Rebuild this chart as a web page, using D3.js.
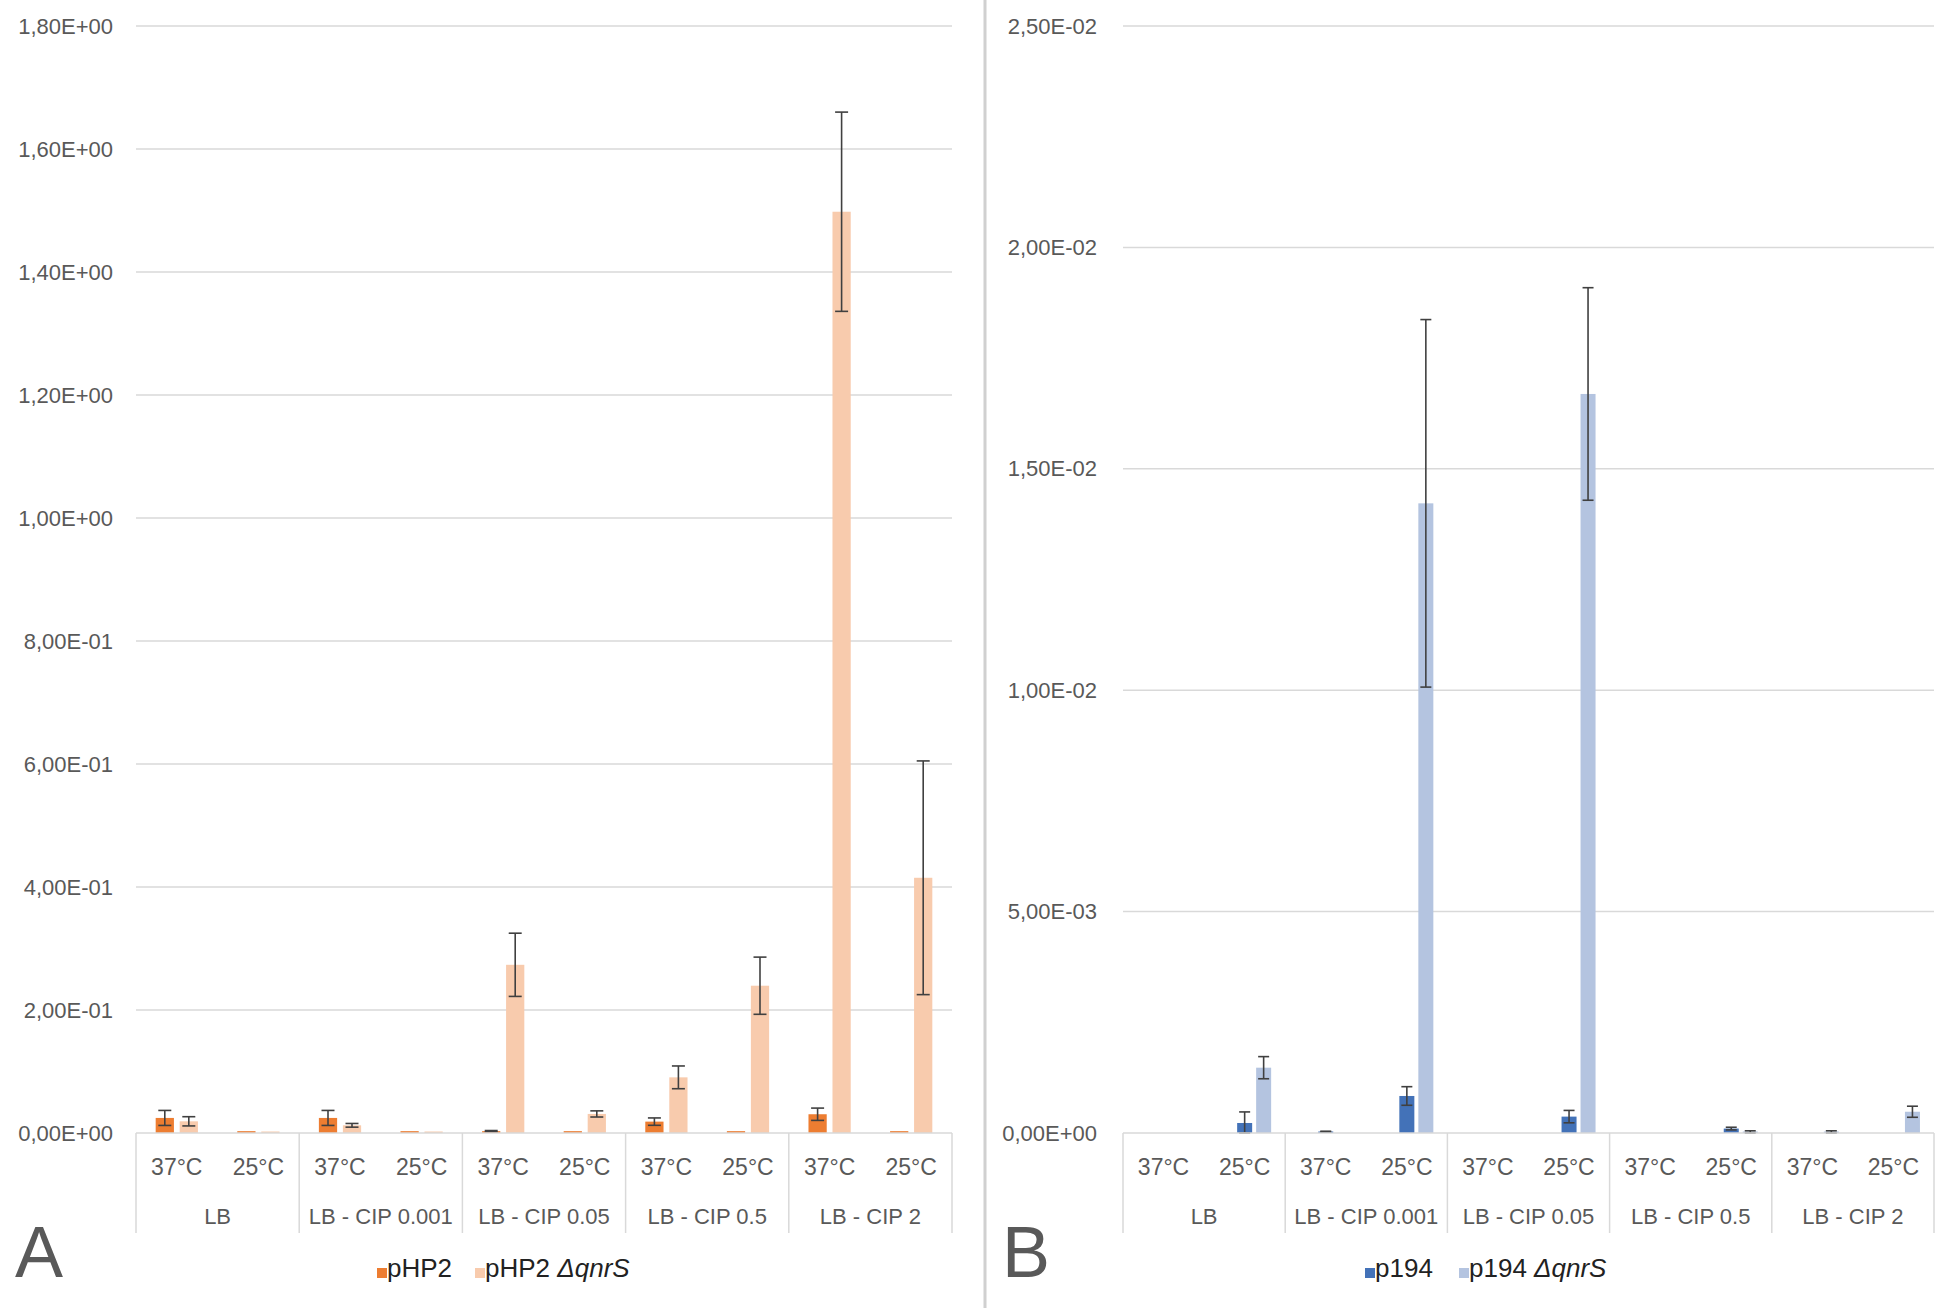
<!DOCTYPE html>
<html>
<head>
<meta charset="utf-8">
<script src="https://cdn.jsdelivr.net/npm/d3@7"></script>
<style>
  body { margin: 0; background: #fff; }
  text { font-family: "Liberation Sans", Arial, sans-serif; }
</style>
</head>
<body>
<script>
// categories
var groups = ["LB", "LB - CIP 0.001", "LB - CIP 0.05", "LB - CIP 0.5", "LB - CIP 2"];
var temps = ["37°C", "25°C"];

// panel A series (one value per group x temperature)
var pHP2 = [0.0245, 0.003, 0.0245, 0.003, 0.003, 0.003, 0.0185, 0.003, 0.0305, 0.003];
var pHP2Err = [0.0122, 0, 0.0122, 0, 0.001, 0, 0.006, 0, 0.010, 0];
var pHP2dq = [0.019, 0.002, 0.0125, 0.002, 0.2735, 0.031, 0.0905, 0.2395, 1.498, 0.415];
var pHP2dqErr = [0.0075, 0, 0.003, 0, 0.0514, 0.005, 0.0185, 0.0465, 0.162, 0.19];

// panel B series
var p194 = [0, 0.000226, 0.00003, 0.000836, 0, 0.00037, 0, 0.0001, 0, 0];
var p194Err = [0, 0.00025, 0.00001, 0.00021, 0, 0.00014, 0, 0.00003, 0, 0];
var p194dq = [0, 0.001475, 0, 0.01422, 0, 0.01669, 0, 0.00002, 0.00001, 0.00048];
var p194dqErr = [0, 0.00025, 0, 0.00415, 0, 0.0024, 0, 0.00003, 0.00004, 0.000125];

var width = 1944;
var height = 1308;
var plotTop = 26;
var plotBase = 1133;
var grey = "#595959";
var lineGrey = "#d9d9d9";

var svg = d3.select("body").append("svg")
  .attr("width", width)
  .attr("height", height);

svg.append("rect").attr("width", width).attr("height", height).attr("fill", "#fff");

// excel-like "1,80E+00"
var sciFormat = function (v) {
  if (Math.abs(v) < 1e-12) return "0,00E+00";
  var e = Math.floor(Math.log10(v) + 1e-9);
  var m = v / Math.pow(10, e);
  return m.toFixed(2).replace(".", ",") + "E" + (e < 0 ? "-" : "+") +
    String(Math.abs(e)).padStart(2, "0");
};

var keys = [];
groups.forEach(function (g) {
  temps.forEach(function (t) { keys.push(g + "|" + t); });
});

var panels = [
  {
    left: 136, right: 952, yMax: 1.8, yStep: 0.2, tickPad: 23,
    slots: ["pHP2", "pHP2 ΔqnrS"], padIn: 0.24, padOut: 0.82, capW: 13,
    series: [
      { name: "pHP2", values: pHP2, errs: pHP2Err, color: "#ED7D31" },
      { name: "pHP2 ΔqnrS", values: pHP2dq, errs: pHP2dqErr, color: "#F8CBAD" }
    ],
    letter: "A", letterX: 15, legendX: [377, 475]
  },
  {
    left: 1123, right: 1934, yMax: 0.025, yStep: 0.005, tickPad: 26,
    // first slot is an empty series, so p194 sits at the category centre
    slots: ["", "p194", "p194 ΔqnrS"], padIn: 0.21, padOut: 0.74, capW: 11,
    series: [
      { name: "p194", values: p194, errs: p194Err, color: "#4372B8" },
      { name: "p194 ΔqnrS", values: p194dq, errs: p194dqErr, color: "#B4C4E0" }
    ],
    letter: "B", letterX: 1002, legendX: [1365, 1459]
  }
];

// divider between the two charts
svg.append("line")
  .attr("x1", 985).attr("x2", 985)
  .attr("y1", 0).attr("y2", height)
  .attr("stroke", "#d0d0d0")
  .attr("stroke-width", 3);

panels.forEach(function (p) {
  var g = svg.append("g");

  var y = d3.scaleLinear().domain([0, p.yMax]).range([plotBase, plotTop]);
  var x0 = d3.scaleBand().domain(keys).range([p.left, p.right]);
  var x1 = d3.scaleBand().domain(p.slots).range([0, x0.bandwidth()])
    .paddingInner(p.padIn).paddingOuter(p.padOut);

  var n = Math.round(p.yMax / p.yStep);
  var ticks = d3.range(0, n + 1).map(function (i) { return i * p.yStep; });

  // gridlines
  g.append("g").selectAll("line")
    .data(ticks.slice(1))
    .enter().append("line")
    .attr("x1", p.left).attr("x2", p.right)
    .attr("y1", function (d) { return y(d); })
    .attr("y2", function (d) { return y(d); })
    .attr("stroke", lineGrey)
    .attr("stroke-width", 1.5);

  // y axis labels
  var yAxis = d3.axisLeft(y)
    .tickValues(ticks)
    .tickFormat(sciFormat)
    .tickSize(0)
    .tickPadding(p.tickPad);
  var ya = g.append("g")
    .attr("transform", "translate(" + p.left + ",0)")
    .call(yAxis);
  ya.select(".domain").remove();
  ya.selectAll("text")
    .style("font-family", "'Liberation Sans', Arial, sans-serif")
    .style("font-size", "22px")
    .attr("fill", grey);

  // bars
  p.series.forEach(function (s) {
    var rows = keys.map(function (k, i) {
      return { key: k, v: s.values[i], e: s.errs[i] };
    });
    g.append("g").selectAll("rect")
      .data(rows.filter(function (d) { return d.v > 0; }))
      .enter().append("rect")
      .attr("x", function (d) { return x0(d.key) + x1(s.name); })
      .attr("y", function (d) { return Math.min(y(d.v), plotBase - 1.5); })
      .attr("width", x1.bandwidth())
      .attr("height", function (d) { return Math.max(1.5, y(0) - y(d.v)); })
      .attr("fill", s.color);

    // error bars
    var eb = g.append("g").selectAll("g")
      .data(rows.filter(function (d) { return d.e > 0; }))
      .enter().append("g")
      .attr("stroke", "#404040")
      .attr("stroke-width", 1.6);
    var cx = function (d) { return x0(d.key) + x1(s.name) + x1.bandwidth() / 2; };
    eb.append("line")
      .attr("x1", cx).attr("x2", cx)
      .attr("y1", function (d) { return y(d.v + d.e); })
      .attr("y2", function (d) { return y(Math.max(0, d.v - d.e)); });
    eb.append("line")
      .attr("x1", function (d) { return cx(d) - p.capW / 2; })
      .attr("x2", function (d) { return cx(d) + p.capW / 2; })
      .attr("y1", function (d) { return y(d.v + d.e); })
      .attr("y2", function (d) { return y(d.v + d.e); });
    eb.append("line")
      .attr("x1", function (d) { return cx(d) - p.capW / 2; })
      .attr("x2", function (d) { return cx(d) + p.capW / 2; })
      .attr("y1", function (d) { return y(Math.max(0, d.v - d.e)); })
      .attr("y2", function (d) { return y(Math.max(0, d.v - d.e)); });
  });

  // category axis
  g.append("line")
    .attr("x1", p.left).attr("x2", p.right)
    .attr("y1", plotBase).attr("y2", plotBase)
    .attr("stroke", lineGrey)
    .attr("stroke-width", 1.5);

  var bounds = groups.map(function (gr) { return x0(gr + "|" + temps[0]); });
  bounds.push(p.right);
  g.append("g").selectAll("line")
    .data(bounds)
    .enter().append("line")
    .attr("x1", function (d) { return d; })
    .attr("x2", function (d) { return d; })
    .attr("y1", plotBase).attr("y2", 1233)
    .attr("stroke", lineGrey)
    .attr("stroke-width", 1.5);

  g.append("g").selectAll("text")
    .data(keys)
    .enter().append("text")
    .attr("x", function (d) { return x0(d) + x0.bandwidth() / 2; })
    .attr("y", 1175)
    .attr("text-anchor", "middle")
    .style("font-size", "23px")
    .attr("fill", grey)
    .text(function (d) { return d.split("|")[1]; });

  g.append("g").selectAll("text")
    .data(groups)
    .enter().append("text")
    .attr("x", function (d) { return x0(d + "|" + temps[0]) + x0.bandwidth(); })
    .attr("y", 1224)
    .attr("text-anchor", "middle")
    .style("font-size", "22px")
    .attr("fill", grey)
    .text(function (d) { return d; });

  // panel letter
  g.append("text")
    .attr("x", p.letterX)
    .attr("y", 1277)
    .style("font-size", "72px")
    .attr("fill", grey)
    .text(p.letter);

  // legend
  var lg = g.append("g");
  p.series.forEach(function (s, i) {
    var item = lg.append("g").attr("transform", "translate(" + p.legendX[i] + ",0)");
    item.append("rect")
      .attr("x", 0).attr("y", 1268)
      .attr("width", 10).attr("height", 10)
      .attr("fill", s.color);
    var t = item.append("text")
      .attr("x", 10)
      .attr("y", 1277)
      .style("font-size", "26px")
      .attr("fill", "#222");
    var parts = s.name.split(" ");
    t.append("tspan").text(parts[0]);
    if (parts.length > 1) {
      t.append("tspan").text(" ");
      t.append("tspan").style("font-style", "italic").text(parts[1]);
    }
  });
});
</script>
</body>
</html>
